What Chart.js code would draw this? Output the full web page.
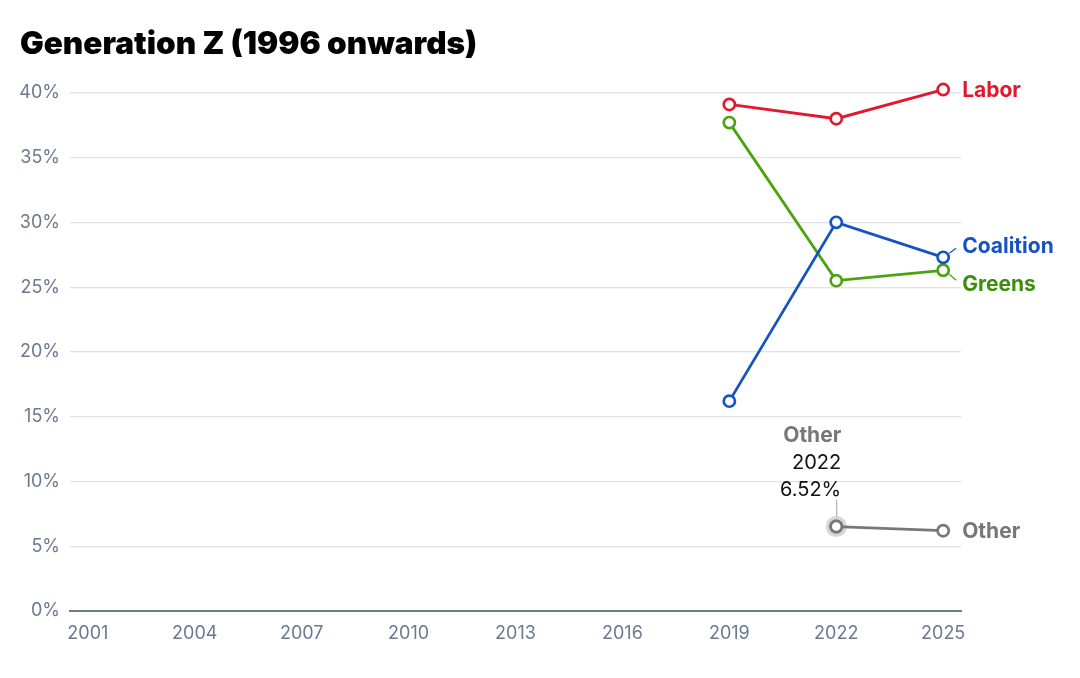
<!DOCTYPE html>
<html>
<head>
<meta charset="utf-8">
<script src="https://cdn.jsdelivr.net/npm/chart.js@4/dist/chart.umd.min.js"></script>
<style>
html,body{margin:0;padding:0;background:#fff;}
#wrap{width:1080px;height:678px;position:relative;}
</style>
</head>
<body>
<div id="wrap"><canvas id="c" width="1080" height="678"></canvas></div>
<script>
const years = [2001, 2004, 2007, 2010, 2013, 2016, 2019, 2022, 2025];
const labor     = [null, null, null, null, null, null, 39.1, 38.0, 40.25];
const coalition = [null, null, null, null, null, null, 16.2, 30.0, 27.3];
const greens    = [null, null, null, null, null, null, 37.7, 25.5, 26.3];
const other     = [null, null, null, null, null, null, null, 6.52, 6.2];
const seriesNames = ['Labor', 'Coalition', 'Greens', 'Other'];
const yTicks = [0, 5, 10, 15, 20, 25, 30, 35, 40];

const colors = {
  Labor:     {line: '#e3182d', label: '#e3182d'},
  Coalition: {line: '#1553c4', label: '#1553c4'},
  Greens:    {line: '#4ca30f', label: '#3b8f0c'},
  Other:     {line: '#777777', label: '#777777'}
};
const labelShift = {Labor: 0, Coalition: -12, Greens: 13, Other: 0};
const FONT = 'Inter, "Open Sans", sans-serif';

function mk(name, vals) {
  return {
    label: name,
    data: years.map((y, i) => ({x: y, y: vals[i]})),
    borderColor: colors[name].line,
    backgroundColor: '#ffffff',
    pointBackgroundColor: '#ffffff',
    pointBorderColor: colors[name].line,
    pointBorderWidth: 2.7,
    pointRadius: 5.6,
    borderWidth: 2.8,
    clip: false,
    tension: 0
  };
}

const endLabels = {
  id: 'endLabels',
  afterDatasetsDraw(chart) {
    const ctx = chart.ctx;
    ctx.save();
    chart.data.datasets.forEach((ds, di) => {
      const meta = chart.getDatasetMeta(di);
      const pt = meta.data[meta.data.length - 1];
      const name = ds.label;
      const shift = labelShift[name];
      const lx = pt.x + 19, ly = pt.y + shift;
      if (shift !== 0) {
        ctx.strokeStyle = colors[name].line;
        ctx.lineWidth = 1.2;
        ctx.beginPath();
        const dir = shift < 0 ? -1 : 1;
        ctx.moveTo(pt.x + 6, pt.y + dir * 4);
        ctx.lineTo(pt.x + 13, ly - dir * 3);
        ctx.stroke();
      }
      ctx.fillStyle = colors[name].label;
      ctx.font = '700 21px ' + FONT;
      ctx.textAlign = 'left';
      ctx.textBaseline = 'middle';
      ctx.fillText(name, lx, ly + 1);
    });
    // annotation for Other 2022
    const oi = seriesNames.indexOf('Other');
    const meta = chart.getDatasetMeta(oi);
    const idx = years.indexOf(2022);
    const p = meta.data[idx];
    ctx.fillStyle = 'rgba(119,119,119,0.3)';
    ctx.beginPath();
    ctx.arc(p.x, p.y, 10.5, 0, Math.PI * 2);
    ctx.fill();
    ctx.fillStyle = '#ffffff';
    ctx.strokeStyle = colors.Other.line;
    ctx.lineWidth = 2.7;
    ctx.beginPath();
    ctx.arc(p.x, p.y, 5.6, 0, Math.PI * 2);
    ctx.fill();
    ctx.stroke();
    ctx.strokeStyle = '#a0a0a0';
    ctx.lineWidth = 1;
    ctx.beginPath();
    ctx.moveTo(p.x + 0.5, p.y - 10);
    ctx.lineTo(p.x + 0.5, p.y - 27);
    ctx.stroke();
    ctx.textAlign = 'right';
    ctx.textBaseline = 'middle';
    const rx = p.x + 5;
    ctx.fillStyle = colors.Other.label;
    ctx.font = '700 21px ' + FONT;
    ctx.fillText('Other', rx, p.y - 91);
    ctx.fillStyle = '#111111';
    ctx.font = '400 20px ' + FONT;
    ctx.fillText(String(years[idx]), rx, p.y - 64);
    ctx.fillText(other[idx].toFixed(2) + '%', rx, p.y - 37);
    ctx.restore();
  }
};

new Chart(document.getElementById('c'), {
  type: 'line',
  data: {
    datasets: [mk('Labor', labor), mk('Coalition', coalition), mk('Greens', greens), mk('Other', other)]
  },
  options: {
    responsive: false,
    animation: false,
    layout: {padding: {left: 20, right: 119, top: 0, bottom: 0}},
    plugins: {
      legend: {display: false},
      tooltip: {enabled: false},
      title: {
        display: true,
        text: 'Generation Z (1996 onwards)',
        align: 'start',
        color: '#000000',
        font: {family: FONT, size: 31.5, weight: '900'},
        padding: {top: 26, bottom: 29}
      }
    },
    scales: {
      x: {
        type: 'linear',
        min: 2000.5,
        max: 2025.5,
        afterBuildTicks(scale) { scale.ticks = years.map(v => ({value: v})); },
        afterFit(scale) { scale.height = 67; },
        ticks: {
          color: '#6b7a90',
          font: {family: FONT, size: 18},
          padding: 12,
          maxRotation: 0,
          autoSkip: false,
          callback: v => String(v)
        },
        grid: {display: false, drawTicks: false},
        border: {display: true, color: '#6e7c91', width: 2}
      },
      y: {
        min: 0,
        max: 40,
        afterBuildTicks(scale) { scale.ticks = yTicks.map(v => ({value: v})); },
        afterFit(scale) { scale.width = 50; },
        ticks: {
          color: '#6b7a90',
          font: {family: FONT, size: 18},
          padding: 10,
          callback: v => v + '%'
        },
        grid: {color: '#dce1ea', lineWidth: 1.2, drawTicks: false},
        border: {display: false}
      }
    }
  },
  plugins: [endLabels]
});
</script>
</body>
</html>
